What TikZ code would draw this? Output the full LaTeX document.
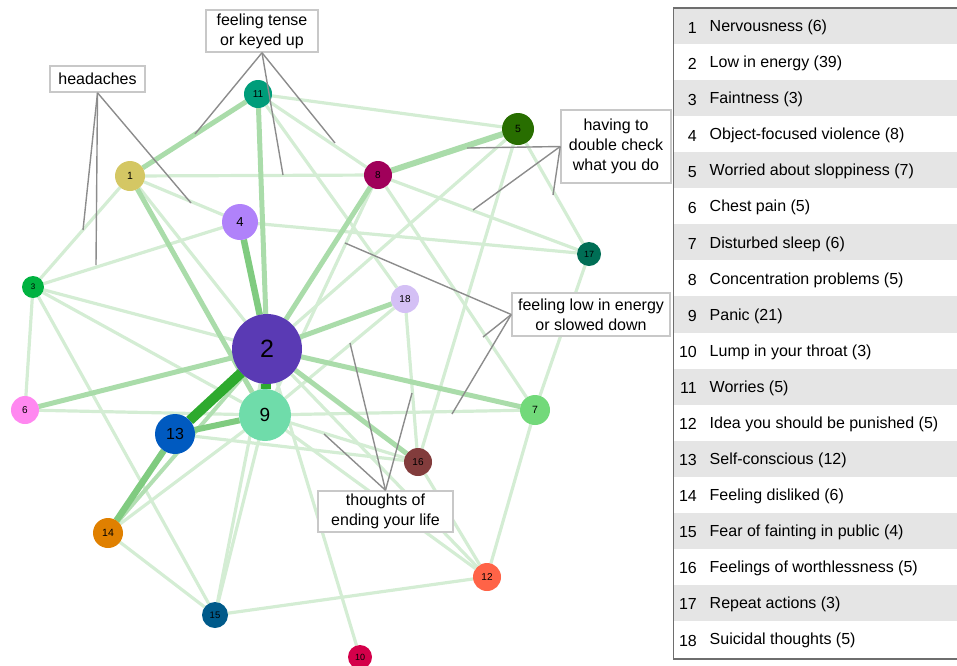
\documentclass[tikz,border=0pt]{standalone}
\usepackage{fontspec}
\setmainfont{Liberation Sans}
\usetikzlibrary{backgrounds}
\definecolor{cL}{RGB}{212,237,212}
\definecolor{cM}{RGB}{170,220,170}
\definecolor{cD}{RGB}{128,203,128}
\definecolor{cT}{RGB}{46,170,46}
\definecolor{cBox}{RGB}{200,200,200}
\definecolor{cPtr}{RGB}{140,140,140}
\definecolor{cRow}{RGB}{229,229,229}
\definecolor{cFrame}{RGB}{110,110,110}
\definecolor{k1}{RGB}{212,199,100}
\definecolor{k2}{RGB}{90,58,180}
\definecolor{k3}{RGB}{0,178,64}
\definecolor{k4}{RGB}{176,130,250}
\definecolor{k5}{RGB}{40,110,0}
\definecolor{k6}{RGB}{255,136,240}
\definecolor{k7}{RGB}{114,217,122}
\definecolor{k8}{RGB}{160,0,90}
\definecolor{k9}{RGB}{111,220,170}
\definecolor{k10}{RGB}{212,0,74}
\definecolor{k11}{RGB}{0,157,122}
\definecolor{k12}{RGB}{255,99,71}
\definecolor{k13}{RGB}{0,90,192}
\definecolor{k14}{RGB}{224,128,0}
\definecolor{k15}{RGB}{0,90,138}
\definecolor{k16}{RGB}{130,60,60}
\definecolor{k17}{RGB}{0,110,85}
\definecolor{k18}{RGB}{212,192,245}
\begin{document}
\begin{tikzpicture}[x=1pt,y=-1pt,
  nd/.style={circle,inner sep=0pt,outer sep=0pt,text=black},
  eL/.style={draw=cL,line width=3.2pt},
  eM/.style={draw=cM,line width=5pt},
  eD/.style={draw=cD,line width=6.5pt},
  eT/.style={draw=cT,line width=10pt},
  lbl/.style={draw=cBox,line width=1.5pt,fill=white,inner sep=0pt,align=center,font=\fontsize{16}{20}\selectfont},
  ptr/.style={draw=cPtr,line width=1.4pt},
  legtxt/.style={inner sep=0pt,font=\fontsize{16}{19}\selectfont}]
\useasboundingbox (0,0) rectangle (957,665);
% nodes
\node[nd,fill=k1,minimum size=30pt,font=\fontsize{10.5}{10.5}\selectfont] (n1) at (130,176) {1};
\node[nd,fill=k2,minimum size=70pt,font=\fontsize{25}{25}\selectfont] (n2) at (267,349) {2};
\node[nd,fill=k3,minimum size=22pt,font=\fontsize{8}{8}\selectfont] (n3) at (33,287) {3};
\node[nd,fill=k4,minimum size=36pt,font=\fontsize{13}{13}\selectfont] (n4) at (240,222) {4};
\node[nd,fill=k5,minimum size=32pt,font=\fontsize{10.5}{10.5}\selectfont] (n5) at (518,129) {5};
\node[nd,fill=k6,minimum size=28pt,font=\fontsize{10}{10}\selectfont] (n6) at (25,410) {6};
\node[nd,fill=k7,minimum size=30pt,font=\fontsize{10.5}{10.5}\selectfont] (n7) at (535,410) {7};
\node[nd,fill=k8,minimum size=28pt,font=\fontsize{10}{10}\selectfont] (n8) at (378,175) {8};
\node[nd,fill=k9,minimum size=52pt,font=\fontsize{19}{19}\selectfont] (n9) at (265,415) {9};
\node[nd,fill=k10,minimum size=24pt,font=\fontsize{9}{9}\selectfont] (n10) at (360,657) {10};
\node[nd,fill=k11,minimum size=28pt,font=\fontsize{10}{10}\selectfont] (n11) at (258,94) {11};
\node[nd,fill=k12,minimum size=28pt,font=\fontsize{10}{10}\selectfont] (n12) at (487,577) {12};
\node[nd,fill=k13,minimum size=40pt,font=\fontsize{16}{16}\selectfont] (n13) at (175,434) {13};
\node[nd,fill=k14,minimum size=30pt,font=\fontsize{10.5}{10.5}\selectfont] (n14) at (108,533) {14};
\node[nd,fill=k15,minimum size=26pt,font=\fontsize{9.5}{9.5}\selectfont] (n15) at (215,615) {15};
\node[nd,fill=k16,minimum size=28pt,font=\fontsize{10}{10}\selectfont] (n16) at (418,462) {16};
\node[nd,fill=k17,minimum size=24pt,font=\fontsize{9}{9}\selectfont] (n17) at (589,254) {17};
\node[nd,fill=k18,minimum size=28pt,font=\fontsize{10}{10}\selectfont] (n18) at (405,299) {18};
% edges
\begin{pgfonlayer}{background}
\foreach \a/\b in {n1/n3,n1/n4,n1/n8,n1/n2,n3/n4,n3/n6,n3/n2,n3/n9,n3/n15,n4/n17,
  n5/n11,n5/n17,n5/n2,n5/n16,n6/n9,n9/n7,n8/n11,n8/n17,n8/n7,n8/n9,n11/n18,
  n14/n9,n14/n15,n15/n9,n15/n2,n15/n12,n16/n18,n16/n12,n16/n13,n16/n9,n18/n9,
  n7/n17,n7/n12,n12/n2,n12/n9,n10/n2}
  \draw[eL] (\a) -- (\b);
\draw[eL,draw=cM!80!cL,line width=4pt] (n14) -- (n2);
\foreach \a/\b in {n1/n9,n11/n2,n1/n11,n8/n2,n2/n18,n2/n7,n2/n16,n2/n6}
  \draw[eM] (\a) -- (\b);
\draw[eM,line width=6pt] (n5) -- (n8);
\draw[eD] (n13) -- (n14);
\draw[eD] (n2) -- (n4);
\draw[eD,line width=6pt] (n13) -- (n9);
\draw[eT] (n2) -- (n13);
\draw[eT] (n2) -- (n9);
\end{pgfonlayer}
% annotation labels
\node[lbl,minimum width=112pt,minimum height=42pt] (tense) at (262,31) {feeling tense\\or keyed up};
\node[lbl,minimum width=95pt,minimum height=26pt] (head) at (97.5,79) {headaches};
\node[lbl,minimum width=110pt,minimum height=73pt] (dbl) at (616,146.5) {having to\\double check\\what you do};
\node[lbl,minimum width=158pt,minimum height=43pt] (low) at (591,314.5) {feeling low in energy\\or slowed down};
\node[lbl,minimum width=135pt,minimum height=41pt] (life) at (385.5,511.5) {thoughts of\\ending your life};
\coordinate (t1) at (195,134);
\coordinate (t2) at (283,175);
\coordinate (t3) at (335,143);
\coordinate (h1) at (83,230);
\coordinate (h2) at (96,265);
\coordinate (h3) at (191,203);
\coordinate (d1) at (467,148);
\coordinate (d2) at (473,210);
\coordinate (d3) at (553,195);
\coordinate (l1) at (345,243);
\coordinate (l2) at (483,337);
\coordinate (l3) at (452,414);
\coordinate (e1) at (324,434);
\coordinate (e2) at (350,343);
\coordinate (e3) at (412,393);
\foreach \p in {t1,t2,t3} \draw[ptr] (tense.south) -- (\p);
\foreach \p in {h1,h2,h3} \draw[ptr] (head.south) -- (\p);
\foreach \p in {d1,d2,d3} \draw[ptr] (dbl.west) -- (\p);
\foreach \p in {l1,l2,l3} \draw[ptr] (low.west) -- (\p);
\foreach \p in {e1,e2,e3} \draw[ptr] (life.north) -- (\p);
% legend
\foreach \t [count=\i] in {Nervousness (6),Low in energy (39),Faintness (3),Object-focused violence (8),Worried about sloppiness (7),Chest pain (5),Disturbed sleep (6),Concentration problems (5),Panic (21),Lump in your throat (3),Worries (5),Idea you should be punished (5),Self-conscious (12),Feeling disliked (6),Fear of fainting in public (4),Feelings of worthlessness (5),Repeat actions (3),Suicidal thoughts (5)}{
  \pgfmathsetmacro\yt{8+(\i-1)*36.06}
  \pgfmathsetmacro\yc{27.5+(\i-1)*36.06}
  \ifodd\i \fill[cRow] (673,\yt) rectangle (960,\yt+36.06); \fi
  \node[legtxt,anchor=east] (num\i) at (697,\yc) {\i};
  \node[legtxt,anchor=west] (leg\i) at (709.5,\yc) {\t};
}
\draw[cFrame,line width=1.3pt] (673.5,8) rectangle (965,659);
\end{tikzpicture}
\end{document}
